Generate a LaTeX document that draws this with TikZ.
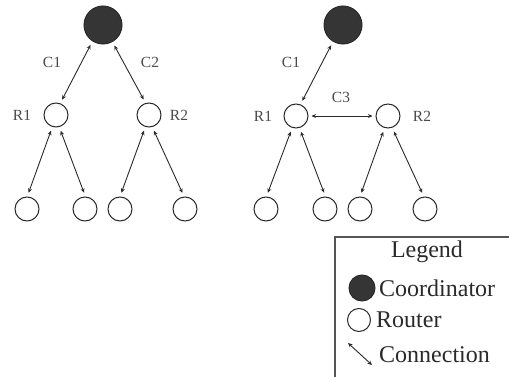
\documentclass[tikz,border=0pt]{standalone}
\usepackage{fontspec}
\setmainfont{Liberation Serif}
\usetikzlibrary{arrows.meta}
\definecolor{ink}{HTML}{2A2A2A}
\begin{document}
\begin{tikzpicture}[x=1pt,y=-1pt,
  coord/.style={circle,draw=ink,fill=ink!95,line width=1pt,minimum size=38pt,inner sep=0pt},
  router/.style={circle,draw=ink,line width=1pt,minimum size=24pt,inner sep=0pt},
  lbl/.style={font=\fontsize{15.5}{15.5}\selectfont,text=ink!85,inner sep=0pt},
  leg/.style={font=\fontsize{24}{24}\selectfont,text=ink,inner sep=0pt,anchor=west},
  conn/.style={draw=ink,line width=0.9pt,{Stealth[length=4.5pt,width=4pt]}-{Stealth[length=4.5pt,width=4pt]},shorten <=4pt,shorten >=4pt}]
\useasboundingbox (0,0) rectangle (509,377);
% left tree
\node[coord] (aC) at (103,25) {};
\node[router] (aR1) at (56,115) {};
\node[router] (aR2) at (149,115) {};
\node[router] (aL1) at (27,209) {};
\node[router] (aL2) at (85,209) {};
\node[router] (aL3) at (120,209) {};
\node[router] (aL4) at (185,209) {};
\node[lbl] (aC1) at (52,62) {C1};
\node[lbl] (aC2) at (150,62) {C2};
\node[lbl] (aR1t) at (22,115) {R1};
\node[lbl] (aR2t) at (179,115) {R2};
\draw[conn] (aC.237) -- (aR1.70);
\draw[conn] (aC.299) -- (aR2.106);
\draw[conn] (aR1.253) -- (aL1.89);
\draw[conn] (aR1.285) -- (aL2.88);
\draw[conn] (aR2.253) -- (aL3.90);
\draw[conn] (aR2.285) -- (aL4.94);
% right tree
\node[coord] (bC) at (343,25) {};
\node[router] (bR1) at (296,116) {};
\node[router] (bR2) at (388,116) {};
\node[router] (bL1) at (266,209) {};
\node[router] (bL2) at (325,209) {};
\node[router] (bL3) at (360,209) {};
\node[router] (bL4) at (425,209) {};
\node[lbl] (bC1) at (291,62) {C1};
\node[lbl] (bC3) at (341,97) {C3};
\node[lbl] (bR1t) at (263,116) {R1};
\node[lbl] (bR2t) at (422,116) {R2};
\draw[conn] (bC.239) -- (bR1.69);
\draw[conn,shorten <=3pt,shorten >=3pt] (bR1) -- (bR2);
\draw[conn] (bR1.252) -- (bL1.88);
\draw[conn] (bR1.286) -- (bL2.88);
\draw[conn] (bR2.254) -- (bL3.90);
\draw[conn] (bR2.289) -- (bL4.95);
% legend
\coordinate (lgA) at (335,377);
\coordinate (lgB) at (335,237);
\coordinate (lgC) at (509,237);
\draw[ink!80,line width=1.3pt] (lgA) -- (lgB) -- (lgC);
\node[leg,anchor=center] (lgT) at (427,252) {Legend};
\node[coord,minimum size=26pt] (lgCo) at (362,288) {};
\node[leg] (lgCot) at (379,288) {Coordinator};
\node[router,minimum size=23pt] (lgRo) at (359,320) {};
\node[leg] (lgRot) at (376,320) {Router};
\coordinate (lgS) at (348,343);
\coordinate (lgE) at (372,365);
\draw[conn,shorten <=0pt,shorten >=0pt] (lgS) -- (lgE);
\node[leg] (lgCnt) at (379,355) {Connection};
\end{tikzpicture}
\end{document}
